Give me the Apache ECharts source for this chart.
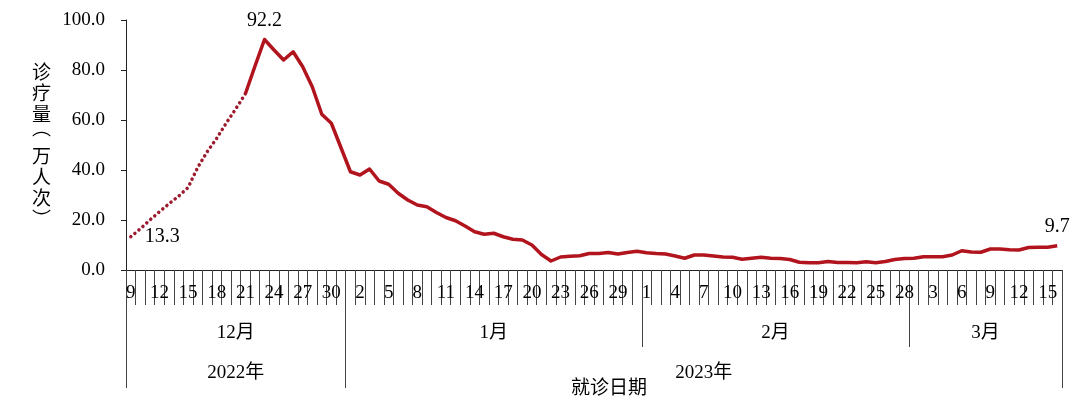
<!DOCTYPE html>
<html>
<head>
<meta charset="utf-8">
<script src="https://cdn.jsdelivr.net/npm/echarts@6/dist/echarts.min.js"></script>
<style>
html,body{margin:0;padding:0;background:#fff;}
#chart{width:1080px;height:404px;}
</style>
</head>
<body>
<div id="chart"></div>
<script>
// Day-of-month labels, 2022-12-09 .. 2023-03-16
const dayLabels = [
  9,10,11,12,13,14,15,16,17,18,19,20,21,22,23,24,25,26,27,28,29,30,31,
  1,2,3,4,5,6,7,8,9,10,11,12,13,14,15,16,17,18,19,20,21,22,23,24,25,26,27,28,29,30,31,
  1,2,3,4,5,6,7,8,9,10,11,12,13,14,15,16,17,18,19,20,21,22,23,24,25,26,27,28,
  1,2,3,4,5,6,7,8,9,10,11,12,13,14,15,16
];
const monthNames = ['12月', '1月', '2月', '3月'];
const yearNames = ['2022年', '2023年'];

// 诊疗量（万人次）
const decValues = [13.3, 16.5, 20.0, 23.3, 26.5, 29.5, 33.0, 41.0, 47.3, 52.7, 58.8, 64.5, 70.5,
  81.5, 92.2, 88.0, 84.0, 87.3, 81.3, 73.3, 62.3, 58.7, 49.0];
const janValues = [39.3, 38.0, 40.4, 35.6, 34.3, 30.7, 28.0, 26.0, 25.3, 23.0, 21.0, 19.7, 17.6, 15.3, 14.3, 14.7,
  13.3, 12.3, 12.0, 10.0, 6.2, 3.6, 5.2, 5.5, 5.7, 6.6, 6.6, 7.0, 6.4, 7.0, 7.5];
const febValues = [6.9, 6.6, 6.4, 5.6, 4.7, 6.0, 6.0, 5.6, 5.2, 5.1, 4.3, 4.7, 5.1, 4.7, 4.6, 4.2,
  3.1, 2.9, 2.9, 3.4, 3.0, 3.0, 2.9, 3.3, 2.9, 3.4, 4.2, 4.6];
const marValues = [4.7, 5.3, 5.3, 5.3, 6.0, 7.7, 7.2, 7.1, 8.4, 8.4, 8.1, 8.0, 9.0, 9.1, 9.1, 9.7];

const dottedUntil = 12;          // index of Dec 21: dotted before, solid after
const labelledPoints = [0, 14, 97];

const values = decValues.concat(janValues, febValues, marValues);
const n = values.length;

// month / year boundaries derived from day labels
const monthStarts = [0];
dayLabels.forEach((d, i) => { if (i > 0 && d === 1) monthStarts.push(i); });
const monthEdges = monthStarts.concat([n]);
const monthMids = monthNames.map((_, k) => (monthEdges[k] + monthEdges[k + 1]) / 2);
const yearEdges = [0, monthStarts[1], n];
const yearMids = yearNames.map((_, k) => (yearEdges[k] + yearEdges[k + 1]) / 2);
const innerMonthEdges = monthStarts.slice(2);

const serif = '"Liberation Serif", "Times New Roman", "Noto Sans CJK SC", serif';
const cjk = '"Noto Sans CJK SC", sans-serif';
const txt = { color: '#000', fontFamily: serif, fontSize: 19 };

function makeData(filter) {
  return values.map((v, i) => {
    if (!filter(i)) return '-';
    if (labelledPoints.indexOf(i) >= 0) {
      return { value: v,
        label: { show: true, position: i === 0 ? 'right' : 'top', distance: i === 0 ? 14 : 9,
        formatter: () => v.toFixed(1), color: '#000', fontFamily: serif, fontSize: 20 } };
    }
    return v;
  });
}

const chart = echarts.init(document.getElementById('chart'), null, { renderer: 'canvas' });
chart.setOption({
  animation: false,
  backgroundColor: '#fff',
  grid: { left: 126, right: 18, top: 20, bottom: 134, containLabel: false, outerBoundsMode: 'none' },
  xAxis: [
    {
      type: 'category',
      data: dayLabels.map(String),
      boundaryGap: true,
      position: 'bottom',
      axisLine: { show: true, lineStyle: { color: '#222', width: 1 } },
      axisTick: { show: true, interval: 0, length: 35, lineStyle: { color: '#444', width: 1 } },
      axisLabel: { interval: 2, margin: 14, ...txt },
      splitLine: { show: false }
    },
    {
      type: 'value', min: 0, max: n, position: 'bottom',
      axisLine: { show: false },
      splitLine: { show: false },
      axisTick: { show: true, customValues: innerMonthEdges, length: 77, lineStyle: { color: '#444', width: 1 } },
      axisLabel: { show: true, customValues: monthMids, margin: 54, ...txt,
        formatter: v => monthNames[monthMids.indexOf(v)] || '' }
    },
    {
      type: 'value', min: 0, max: n, position: 'bottom',
      axisLine: { show: false },
      splitLine: { show: false },
      axisTick: { show: true, customValues: yearEdges, length: 118, lineStyle: { color: '#444', width: 1 } },
      axisLabel: { show: true, customValues: yearMids, margin: 94, ...txt,
        formatter: v => yearNames[yearMids.indexOf(v)] || '' },
      name: '就诊日期',
      nameLocation: 'middle',
      nameGap: 107,
      nameMoveOverlap: false,
      nameTextStyle: { color: '#000', fontFamily: cjk, fontSize: 19, padding: [0, 0, 0, 30] }
    }
  ],
  yAxis: {
    type: 'value', min: 0, max: 100, interval: 20,
    axisLine: { show: true, lineStyle: { color: '#222', width: 1 } },
    axisTick: { show: true, inside: false, length: 5, lineStyle: { color: '#222' } },
    axisLabel: { margin: 21, ...txt, formatter: v => v.toFixed(1) },
    splitLine: { show: false },
    name: '{c|诊}\n{c|疗}\n{c|量}\n{p|︵}\n{c|万}\n{c|人}\n{c|次}\n{c|︶}',
    nameLocation: 'middle',
    nameRotate: 0,
    nameGap: 75,
    nameMoveOverlap: false,
    nameTextStyle: { color: '#000', fontFamily: cjk, fontSize: 19, lineHeight: 21,
      rich: {
        c: { color: '#000', fontFamily: cjk, fontSize: 19, lineHeight: 21 },
        p: { color: '#000', fontFamily: cjk, fontSize: 19, lineHeight: 21, padding: [0, 0, 14, 0] }
      } }
  },
  series: [
    {
      type: 'line', xAxisIndex: 0, yAxisIndex: 0,
      data: makeData(i => i <= dottedUntil),
      showSymbol: true, symbol: 'circle', symbolSize: 0,
      itemStyle: { color: '#9C1A2E' },
      lineStyle: { color: '#9C1A2E', width: 3.5, type: [0.1, 5.2], cap: 'round' },
      z: 3
    },
    {
      type: 'line', xAxisIndex: 0, yAxisIndex: 0,
      data: makeData(i => i >= dottedUntil),
      showSymbol: true, symbol: 'circle', symbolSize: 0,
      itemStyle: { color: '#B2141E' },
      lineStyle: { color: '#B2141E', width: 3.5, join: 'round' },
      z: 4
    }
  ]
});
</script>
</body>
</html>
